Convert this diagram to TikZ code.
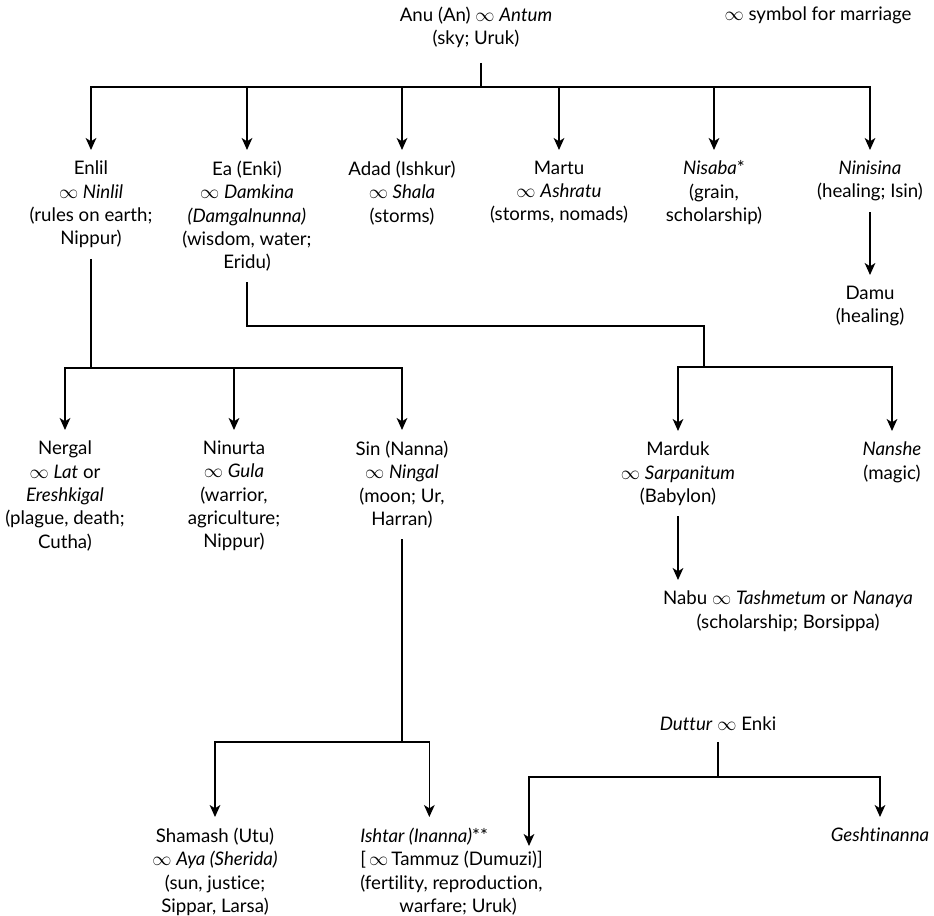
\documentclass[tikz,border=0pt]{standalone}
\usepackage{fontspec}
\setmainfont{Lato}[Ligatures=NoCommon]
\usepackage{tikz}
\usetikzlibrary{arrows.meta}
\newcommand{\married}{\ensuremath{\infty}}

\tikzset{
  god/.style={align=center, inner xsep=0pt, inner ysep=8pt, font=\fontsize{14}{17.5}\selectfont},
  conn/.style={line width=1.1pt},
  arr/.style={line width=1.1pt, -{Stealth[length=9pt,width=8pt,inset=2.5pt]}}
}

\begin{document}
\begin{tikzpicture}[x=0.75pt,y=-0.75pt]
  \useasboundingbox (0,0) rectangle (934,916);
    %Anu and the legend
    \node[god,anchor=north] (anu) at (476,-4) {Anu (An) \married{} \textit{Antum}\\(sky; Uruk)};
    \node[god,anchor=north] (legend) at (818,-4) {\married{} symbol for marriage};
    \coordinate (topbar) at (481,87);

    %children of Anu
    \node[god,anchor=north] (enlil) at (91,150) {Enlil\\\married{} \textit{Ninlil}\\(rules on earth;\\Nippur)};
    \node[god,anchor=north] (ea) at (247,150) {Ea (Enki)\\\married{} \textit{Damkina}\\\textit{(Damgalnunna)}\\(wisdom, water;\\Eridu)};
    \node[god,anchor=north] (adad) at (402,150) {Adad (Ishkur)\\\married{} \textit{Shala}\\(storms)};
    \node[god,anchor=north] (martu) at (559,150) {Martu\\\married{} \textit{Ashratu}\\(storms, nomads)};
    \node[god,anchor=north] (nisaba) at (714,150) {\textit{Nisaba}*\\(grain,\\scholarship)};
    \node[god,anchor=north] (ninisina) at (870,150) {\textit{Ninisina}\\(healing; Isin)};
    \node[god,anchor=north] (damu) at (870,275) {Damu\\(healing)};

    %children of Enlil and of Ea
    \coordinate (enlilbar) at (91,368);
    \coordinate (eaturn) at (704,326);
    \coordinate (eabar) at (704,367);
    \node[god,anchor=north] (nergal) at (65,430) {Nergal\\\married{} \textit{Lat} or\\\textit{Ereshkigal}\\(plague, death;\\Cutha)};
    \node[god,anchor=north] (ninurta) at (234,430) {Ninurta\\\married{} \textit{Gula}\\(warrior,\\agriculture;\\Nippur)};
    \node[god,anchor=north] (sin) at (402,430) {Sin (Nanna)\\\married{} \textit{Ningal}\\(moon; Ur,\\Harran)};
    \node[god,anchor=north] (marduk) at (678,431) {Marduk\\\married{} \textit{Sarpanitum}\\(Babylon)};
    \node[god,anchor=north] (nanshe) at (892,431) {\textit{Nanshe}\\(magic)};
    \node[god,anchor=north] (nabu) at (788,580) {Nabu \married{} \textit{Tashmetum} or \textit{Nanaya}\\(scholarship; Borsippa)};

    %children of Sin, and of Duttur
    \coordinate (sinbar) at (402,742);
    \node[god,anchor=north] (duttur) at (718,706) {\textit{Duttur} \married{} Enki};
    \coordinate (dutturbar) at (718,777);
    \coordinate (dumuzi) at (529,846);
    \node[god,anchor=north] (shamash) at (215,817) {Shamash (Utu)\\\married{} \textit{Aya (Sherida)}\\(sun, justice;\\Sippar, Larsa)};
    \node[god,align=left,anchor=north west] (ishtar) at (360,817) {\textit{Ishtar (Inanna)}**\\{}[\,\married\,Tammuz (Dumuzi)]\\(fertility, reproduction,\\\hspace*{2.1em}warfare; Uruk)};
    \node[god,anchor=north] (geshtinanna) at (880,817) {\textit{Geshtinanna}};

    \draw[conn,shorten <=3pt] (anu.south -| topbar) -- (topbar);
    \foreach \g in {enlil,ea,adad,martu,nisaba,ninisina}
        \draw[arr] (topbar) -| (\g.north);
    \draw[arr] (ninisina.south) -- (damu.north);

    \draw[conn] (enlil.south) -- (enlilbar);
    \foreach \g in {nergal,ninurta,sin}
        \draw[arr] (enlilbar) -| (\g.north);
    \draw[conn] (ea.south) |- (eaturn) -- (eabar);
    \foreach \g in {marduk,nanshe}
        \draw[arr] (eabar) -| (\g.north);
    \draw[arr] (marduk.south) -- (marduk.south |- nabu.north);

    \draw[conn] (sin.south) -- (sinbar);
    \draw[arr] (sinbar) -| (shamash.north);
    \draw[arr] (sinbar) -| ([xshift=52pt]ishtar.north west);
    \draw[conn] (duttur.south) -- (dutturbar);
    \draw[arr] (dutturbar) -| (dumuzi);
    \draw[arr] (dutturbar) -| (geshtinanna.north);
\end{tikzpicture}
\end{document}
